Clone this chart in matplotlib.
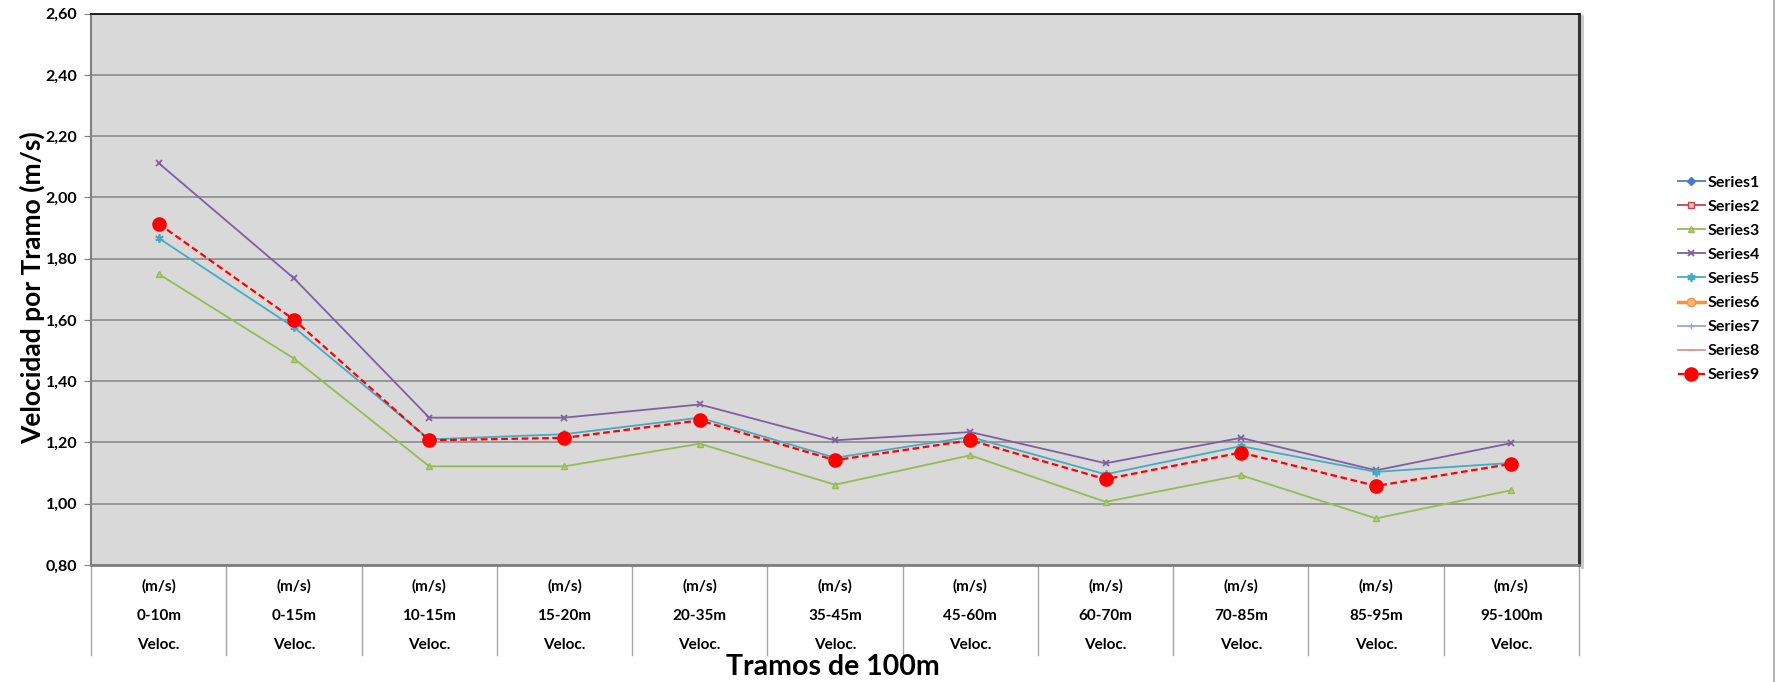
import matplotlib
matplotlib.use("Agg")
import matplotlib.pyplot as plt

plt.rcParams['font.family'] = ['Lato', 'DejaVu Sans']

# tramos (x categories), three label rows each
tramos = ['0-10m', '0-15m', '10-15m', '15-20m', '20-35m', '35-45m',
          '45-60m', '60-70m', '70-85m', '85-95m', '95-100m']
fila_sup = '(m/s)'
fila_inf = 'Veloc.'

# velocidades por tramo (m/s)
series1 = []
series2 = []
series3 = [1.75, 1.474, 1.122, 1.122, 1.196, 1.062, 1.158, 1.006, 1.093, 0.952, 1.044]
series4 = [2.112, 1.736, 1.281, 1.281, 1.324, 1.207, 1.234, 1.132, 1.215, 1.109, 1.198]
series5 = [1.867, 1.576, 1.21, 1.227, 1.281, 1.150, 1.218, 1.096, 1.188, 1.104, 1.133]
series6 = []
series7 = []
series8 = []
series9 = [1.914, 1.601, 1.207, 1.215, 1.272, 1.142, 1.207, 1.080, 1.167, 1.058, 1.130]

yticks = [0.8, 1.0, 1.2, 1.4, 1.6, 1.8, 2.0, 2.2, 2.4, 2.6]

fig = plt.figure(figsize=(17.78, 6.82), dpi=100)
ax = fig.add_axes([0.0512, 0.1716, 0.8369, 0.8084])
ax.set_facecolor('#D9D9D9')

x = list(range(len(tramos)))

def xs(vals):
    return x[:len(vals)]

ax.plot(xs(series1), series1, color='#4A7EBB', marker='D', ms=4, lw=1.3, label='Series1')
ax.plot(xs(series2), series2, color='#BE4B48', marker='s', ms=5, mfc='#E6B9B8', lw=1.3, label='Series2')
ax.plot(xs(series3), series3, color='#98B954', marker='^', ms=5, mfc='#B3CC82', lw=1.3, label='Series3')
ax.plot(xs(series4), series4, color='#7D60A0', marker='x', ms=5, mew=1.3, lw=1.3, label='Series4')
ax.plot(xs(series5), series5, color='#46AAC5', marker=(6, 2, 0), ms=6, mew=1.3, lw=1.3, label='Series5')
ax.plot(xs(series6), series6, color='#F69240', marker='o', ms=6, mfc='#F9B47E', lw=2.5, label='Series6')
ax.plot(xs(series7), series7, color='#93A9CF', marker='+', ms=5, lw=1.3, label='Series7')
ax.plot(xs(series8), series8, color='#D99694', marker='_', ms=4, lw=1.3, label='Series8')
ax.plot(xs(series9), series9, color='red', marker='o', ms=9.5, lw=1.6,
        dashes=(3, 1.6), label='Series9', zorder=5)

ax.set_xlim(-0.5, len(tramos) - 0.5)
ax.set_ylim(0.8, 2.6)
ax.set_yticks(yticks)
ax.set_yticklabels([('%.2f' % v).replace('.', ',') for v in yticks],
                   fontsize=11.5, fontweight='bold')
ax.yaxis.grid(True, color='#8C8C8C', lw=1.2)
ax.set_axisbelow(True)
ax.tick_params(axis='y', length=5, color='#808080', pad=5)
ax.set_xticks([])

ax.spines['top'].set_color('black')
ax.spines['top'].set_linewidth(1.2)
ax.spines['right'].set_color('#333333')
ax.spines['right'].set_linewidth(2.2)
ax.spines['left'].set_color('#808080')
ax.spines['left'].set_linewidth(1.5)
ax.spines['bottom'].set_color('#7F7F7F')
ax.spines['bottom'].set_linewidth(2)

# soft shadow right of the plot area
ax.plot([1.0018, 1.0018], [-0.004, 0.995], transform=ax.transAxes, clip_on=False,
        color='#C8C8C8', lw=2, zorder=0)

# category "table" under the plot
trans = ax.get_xaxis_transform()
for i in range(len(tramos) + 1):
    ax.plot([i - 0.5, i - 0.5], [0, -0.163], transform=trans, clip_on=False,
            color='#A6A6A6', lw=1)
for i, t in enumerate(tramos):
    ax.text(i, -0.038, fila_sup, transform=trans, ha='center', va='center',
            fontsize=11, fontweight='bold')
    ax.text(i, -0.092, t, transform=trans, ha='center', va='center',
            fontsize=11, fontweight='bold')
    ax.text(i, -0.146, fila_inf, transform=trans, ha='center', va='center',
            fontsize=11, fontweight='bold')

fig.text(0.4687, 0.022, 'Tramos de 100m', ha='center', va='center',
         fontsize=20.5, fontweight='bold')
fig.text(0.018, 0.578, 'Velocidad por Tramo (m/s)', rotation=90, ha='center',
         va='center', fontsize=19, fontweight='bold')

# outer chart border at right
fig.add_artist(plt.Line2D([0.998, 0.998], [0.0, 1.0], color='#A6A6A6', lw=1.2))

leg = fig.legend(loc='center left', bbox_to_anchor=(0.940, 0.591), frameon=False,
                 prop={'size': 11.5, 'weight': 'bold'}, handlelength=1.7,
                 handletextpad=0.2, labelspacing=0.62, borderaxespad=0)

fig.savefig('out.png', dpi=100)
